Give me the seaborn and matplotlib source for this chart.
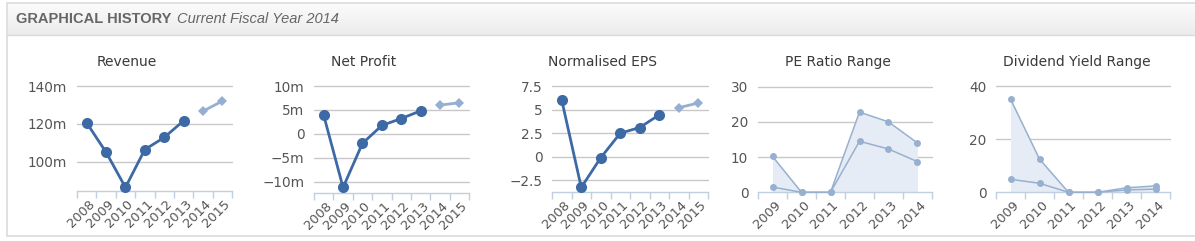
import numpy as np
import pandas as pd
import matplotlib
matplotlib.use("Agg")
import matplotlib.pyplot as plt
import matplotlib.transforms as mtransforms
from matplotlib.patches import Rectangle
import seaborn as sns

# ---------------- data ----------------
hist_years = ["2008", "2009", "2010", "2011", "2012", "2013"]
fc_years = ["2014", "2015"]
all_years = hist_years + fc_years

revenue_hist = [120.5, 105.0, 86.4, 106.4, 112.8, 121.6]
revenue_fc = [126.7, 132.0]

profit_hist = [3.9, -11.2, -2.0, 1.75, 3.2, 4.8]
profit_fc = [6.0, 6.5]

eps_hist = [6.0, -3.25, -0.1, 2.5, 3.1, 4.45]
eps_fc = [5.2, 5.7]

range_years = ["2009", "2010", "2011", "2012", "2013", "2014"]
pe_high = [10.2, 0.0, 0.0, 22.8, 20.0, 14.0]
pe_low = [1.5, 0.0, 0.0, 14.5, 12.3, 8.7]
dy_high = [35.1, 12.5, 0.0, 0.0, 1.7, 2.4]
dy_low = [4.9, 3.4, 0.0, 0.0, 0.9, 1.2]

rev_ticks = [100, 120, 140]
rev_labels = ["100m", "120m", "140m"]
np_ticks = [-10, -5, 0, 5, 10]
np_labels = ["\u221210m", "\u22125m", "0", "5m", "10m"]
eps_ticks = [-2.5, 0, 2.5, 5, 7.5]
eps_labels = ["\u22122.5", "0", "2.5", "5", "7.5"]
pe_ticks = [0, 10, 20, 30]
dy_ticks = [0, 20, 40]

# ---------------- style ----------------
sns.set_theme(style="white")
plt.rcParams["font.family"] = ["DejaVu Sans"]

W, H = 1195, 241
fig = plt.figure(figsize=(W / 100, H / 100), dpi=100)

MAIN = "#3d6aa5"
FC = "#94afd2"
RNG = "#98b0cf"
FILL = "#e6ecf5"
GRID = "#c8c8c8"
AXIS = "#c0d0e0"
LBL = "#555555"
TTL = "#3a3a3a"

# frame
fig.patches.append(Rectangle((7 / W, 1 - 236 / H), 1.2, (236 - 3) / H,
                             transform=fig.transFigure, facecolor="white",
                             edgecolor="#dcdcdc", lw=1.2, zorder=-5))
# header with vertical gradient
hax = fig.add_axes([7.5 / W, 1 - 35 / H, 1 - 7.5 / W, 31.5 / H], zorder=-3)
grad = np.linspace(0.985, 0.925, 64).reshape(-1, 1)
hax.imshow(np.dstack([grad, grad, grad]), aspect="auto", extent=(0, 1, 0, 1),
           interpolation="bilinear")
hax.set_xlim(0, 1)
hax.set_ylim(0, 1)
hax.axis("off")
fig.add_artist(plt.Line2D([7 / W, 1], [1 - 35 / H, 1 - 35 / H], color="#d8d8d8",
                          lw=1.0, transform=fig.transFigure))
fig.text(16 / W, 1 - 19 / H, "GRAPHICAL HISTORY", fontsize=10.5, fontweight="bold",
         color="#666666", va="center", ha="left", family="Liberation Sans")
fig.text(177 / W, 1 - 19 / H, "Current Fiscal Year 2014", fontsize=10.5,
         style="italic", color="#666666", va="center", ha="left",
         family="Liberation Sans")


def make_ax(x0, x1, y0, y1):
    return fig.add_axes([x0 / W, 1 - y1 / H, (x1 - x0) / W, (y1 - y0) / H])


def style_ax(ax, n, labels, yticks, ylabels, ylim, title, title_x):
    ax.set_xlim(-0.5, n - 0.5)
    ax.set_ylim(*ylim)
    ax.set_yticks(yticks)
    ax.set_yticklabels(ylabels)
    ax.set_xticks(np.arange(n + 1) - 0.5)
    ax.set_xticklabels([])
    ax.set_xticks(np.arange(n), minor=True)
    ax.set_xticklabels(labels, minor=True, rotation=45, ha="right",
                       rotation_mode="anchor", va="center")
    ax.tick_params(axis="x", which="major", length=5, width=1, color=AXIS,
                   direction="out", bottom=True)
    ax.tick_params(axis="x", which="minor", length=0, pad=8, labelsize=9.4,
                   labelcolor=LBL, bottom=True)
    ax.tick_params(axis="y", length=0, pad=7, labelsize=9.8, labelcolor=LBL)
    off = mtransforms.ScaledTranslation(6 / 100, 0, fig.dpi_scale_trans)
    for lab in ax.get_xticklabels(minor=True):
        lab.set_transform(lab.get_transform() + off)
    for s in ["top", "right", "left"]:
        ax.spines[s].set_visible(False)
    ax.spines["bottom"].set_color(AXIS)
    ax.spines["bottom"].set_linewidth(1.0)
    ax.spines["bottom"].set_zorder(1)
    for yv in yticks:
        if ylim[0] < yv <= ylim[1] + 1e-9 and abs(yv - ylim[0]) > 1e-9:
            ax.axhline(yv, color=GRID, lw=1.0, zorder=0)
    ax.set_xlabel("")
    ax.set_ylabel("")
    ax.patch.set_alpha(0)
    fig.text(title_x / W, 1 - 62 / H, title, ha="center", va="center",
             fontsize=10, color=TTL)


def line_panel(ax, hist, fc, yticks, ylabels, ylim, title, tx):
    n = len(all_years)
    dh = pd.DataFrame({"x": np.arange(len(hist)), "v": hist})
    df = pd.DataFrame({"x": np.arange(len(hist), n), "v": fc})
    sns.lineplot(data=dh, x="x", y="v", ax=ax, color=MAIN, lw=2.0, marker="o",
                 markersize=8, markeredgewidth=0, zorder=3)
    sns.lineplot(data=df, x="x", y="v", ax=ax, color=FC, lw=2.0, marker="D",
                 markersize=5.5, markeredgewidth=0, zorder=3)
    style_ax(ax, n, all_years, yticks, ylabels, ylim, title, tx)
    for ln in ax.lines:
        ln.set_clip_on(False)


def range_panel(ax, hi, lo, yticks, ylim, title, tx):
    n = len(range_years)
    x = np.arange(n)
    ax.fill_between(x, 0, hi, color=FILL, lw=0, zorder=1)
    d = pd.DataFrame({"x": x, "hi": hi, "lo": lo})
    sns.lineplot(data=d, x="x", y="hi", ax=ax, color=RNG, lw=1.1, marker="o",
                 markersize=5, markeredgewidth=0, zorder=3)
    sns.lineplot(data=d, x="x", y="lo", ax=ax, color=RNG, lw=1.1, marker="o",
                 markersize=5, markeredgewidth=0, zorder=3)
    style_ax(ax, n, range_years, yticks, [str(t) for t in yticks], ylim, title, tx)
    for ln in ax.lines:
        ln.set_clip_on(False)


ax1 = make_ax(77, 232, 86, 191)
line_panel(ax1, revenue_hist, revenue_fc, rev_ticks, rev_labels, (84.5, 140),
           "Revenue", 127)
ax2 = make_ax(314, 469, 86, 192.7)
line_panel(ax2, profit_hist, profit_fc, np_ticks, np_labels, (-12.3, 10),
           "Net Profit", 364)
ax3 = make_ax(552, 708, 86, 191.7)
line_panel(ax3, eps_hist, eps_fc, eps_ticks, eps_labels, (-3.7, 7.5),
           "Normalised EPS", 602)
ax4 = make_ax(758, 932, 86.7, 192.3)
range_panel(ax4, pe_high, pe_low, pe_ticks, (0, 30), "PE Ratio Range", 838)
ax5 = make_ax(996, 1170, 86, 192.3)
range_panel(ax5, dy_high, dy_low, dy_ticks, (0, 40), "Dividend Yield Range", 1077)

fig.savefig("out.png", dpi=100)
